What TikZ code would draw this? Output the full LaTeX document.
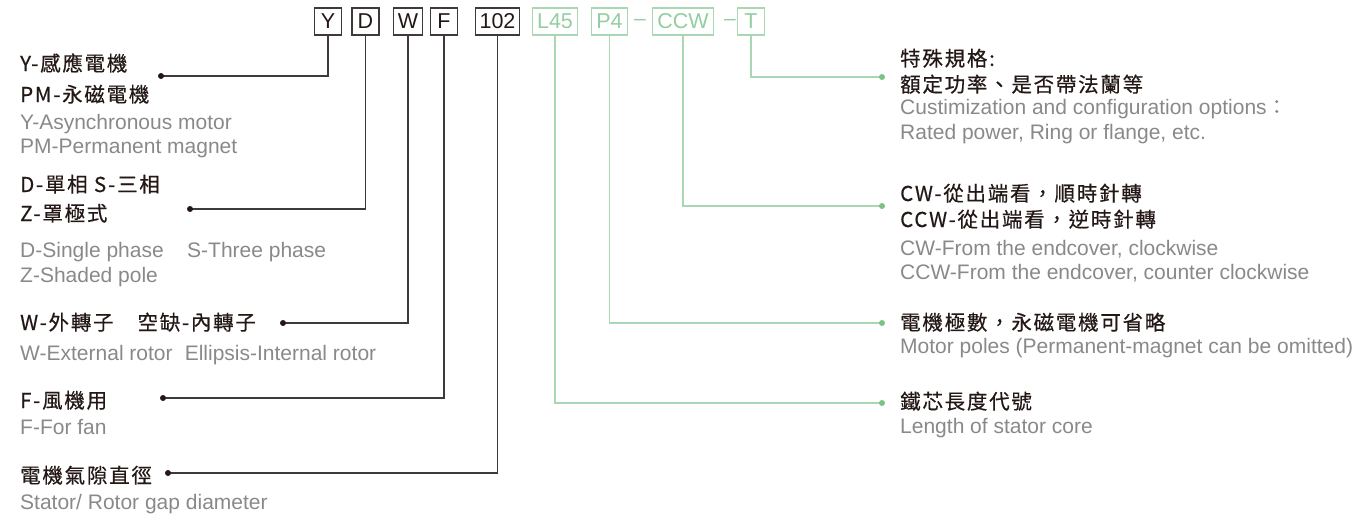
\documentclass[tikz,border=0pt]{standalone}
\usepackage{fontspec}
\setmainfont{Liberation Sans}
\newfontfamily\cjk[LetterSpace=8.5,FakeBold=0.5]{Noto Sans CJK TC}
\definecolor{dk}{HTML}{3E3A39}
\definecolor{txt}{HTML}{231815}
\definecolor{gr}{HTML}{898989}
\definecolor{lg}{HTML}{A9D6B3}
\definecolor{gt}{HTML}{92CE9F}
\definecolor{gd}{HTML}{7BC28A}
\begin{document}
\begin{tikzpicture}[x=1pt,y=-1pt,
  cn/.style={anchor=base west, inner sep=0pt, font=\cjk\fontsize{20.5}{24}\selectfont, text=txt},
  en/.style={anchor=base west, inner sep=0pt, font=\fontsize{21}{24}\selectfont, text=gr},
  kbox/.style={draw=dk, line width=1.1pt, minimum height=27pt, minimum width=27pt, inner xsep=4.5pt, inner ysep=0pt, font=\fontsize{21.5}{24}\selectfont, text=txt},
  gbox/.style={draw=lg, line width=1.1pt, minimum height=27pt, minimum width=27pt, inner xsep=4.5pt, inner ysep=0pt, font=\fontsize{21.5}{24}\selectfont, text=gt},
  gdash/.style={inner sep=0pt, font=\fontsize{21}{24}\selectfont, text=gt},
  kline/.style={draw=dk, line width=1.2pt},
  gline/.style={draw=lg, line width=1.2pt},
  kdot/.style={fill=txt},
  gdot/.style={fill=gd}]
\useasboundingbox (0,0) rectangle (1363,514);
% top code boxes
\node[kbox] (bY) at (328,21.5) {Y};
\node[kbox] (bD) at (365.5,21.5) {D};
\node[kbox] (bW) at (408,21.5) {W};
\node[kbox] (bF) at (444,21.5) {F};
\node[kbox] (b102) at (497.5,21.5) {102};
\node[gbox] (bL) at (555,21.5) {L45};
\node[gbox] (bP) at (609.5,21.5) {P4};
\node[gdash] (d1) at (640,22.5) {–};
\node[gbox] (bC) at (683,21.5) {CCW};
\node[gdash] (d2) at (730,22.5) {–};
\node[gbox] (bT) at (751,21.5) {T};
% dots
\coordinate (pY) at (161,76);
\coordinate (pD) at (190,209);
\coordinate (pW) at (283,323);
\coordinate (pF) at (163,398);
\coordinate (p102) at (168,473);
\coordinate (pT) at (882,77);
\coordinate (pC) at (882,206);
\coordinate (pP) at (882,323);
\coordinate (pL) at (882,403);
% connectors
\draw[kline] (bY.south) |- (pY);
\draw[kline] (bD.south) |- (pD);
\draw[kline] (bW.south) |- (pW);
\draw[kline] (bF.south) |- (pF);
\draw[kline] (b102.south) |- (p102);
\draw[gline] (bT.south) |- (pT);
\draw[gline] (bC.south) |- (pC);
\draw[gline] (bP.south) |- (pP);
\draw[gline] (bL.south) |- (pL);
\foreach \p in {pY,pD,pW,pF,p102} \fill[kdot] (\p) circle (3);
\foreach \p in {pT,pC,pP,pL} \fill[gdot] (\p) circle (3);
% left texts
\node[cn] (tY1) at (20,71) {Y-感應電機};
\node[cn] (tY2) at (20,102) {PM-永磁電機};
\node[en] (tY3) at (20,129) {Y-Asynchronous motor};
\node[en] (tY4) at (20,153) {PM-Permanent magnet};
\node[cn] (tD1) at (20,192) {D-單相 S-三相};
\node[cn] (tD2) at (20,221) {Z-罩極式};
\node[en] (tD3) at (20,257) {D-Single phase};
\node[en] (tD4) at (187,257) {S-Three phase};
\node[en] (tD5) at (20,282) {Z-Shaded pole};
\node[cn] (tW1) at (20,330) {W-外轉子　空缺-內轉子};
\node[en] (tW2) at (20,360) {W-External rotor\hspace{0.3em} Ellipsis-Internal rotor};
\node[cn] (tF1) at (20,408) {F-風機用};
\node[en] (tF2) at (20,434) {F-For fan};
\node[cn] (tG1) at (20,483) {電機氣隙直徑};
\node[en] (tG2) at (20,509) {Stator/ Rotor gap diameter};
% right texts
\node[cn] (tT1) at (900,66) {特殊規格:};
\node[cn] (tT2) at (900,92) {額定功率、是否帶法蘭等};
\node[en] (tT3) at (900,114) {Custimization and configuration options{\cjk\fontsize{20}{24}\selectfont ：}};
\node[en] (tT4) at (900,139) {Rated power, Ring or flange, etc.};
\node[cn] (tC1) at (900,201) {CW-從出端看，順時針轉};
\node[cn] (tC2) at (900,227) {CCW-從出端看，逆時針轉};
\node[en] (tC3) at (900,255) {CW-From the endcover, clockwise};
\node[en] (tC4) at (900,279) {CCW-From the endcover, counter clockwise};
\node[cn] (tP1) at (900,330) {電機極數，永磁電機可省略};
\node[en] (tP2) at (900,353) {Motor poles (Permanent-magnet can be omitted)};
\node[cn] (tL1) at (900,409) {鐵芯長度代號};
\node[en] (tL2) at (900,433) {Length of stator core};
\end{tikzpicture}
\end{document}
